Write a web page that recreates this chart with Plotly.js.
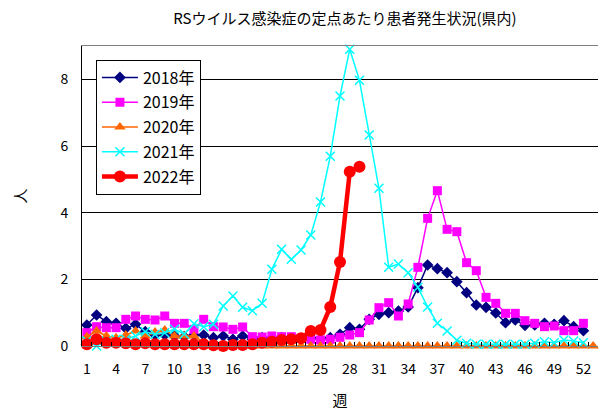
<!DOCTYPE html>
<html>
<head>
<meta charset="utf-8">
<script src="https://cdn.plot.ly/plotly-3.0.1.min.js"></script>
<style>html,body{margin:0;padding:0;background:#fff;}#chart{width:600px;height:410px;}</style>
</head>
<body>
<div id="chart"></div>
<script>
const weeks = Array.from({length: 53}, (_, i) => i + 1);
const tickLabels = [1,4,7,10,13,16,19,22,25,28,31,34,37,40,43,46,49,52];
const seriesNames = ['2018年','2019年','2020年','2021年','2022年'];

const y2018 = [0.63,0.93,0.73,0.68,0.53,0.65,0.43,0.33,0.33,0.3,0.28,0.33,0.33,0.25,0.3,0.2,0.3,0.2,0.25,0.2,0.25,0.2,0.2,0.25,0.2,0.25,0.35,0.55,0.5,0.8,0.95,1.0,1.05,1.17,1.75,2.43,2.32,2.2,1.93,1.6,1.23,1.16,0.99,0.7,0.78,0.62,0.63,0.68,0.65,0.76,0.58,0.46];
const y2019 = [0.4,0.58,0.55,0.55,0.8,0.9,0.8,0.78,0.9,0.68,0.68,0.5,0.8,0.58,0.57,0.5,0.57,0.28,0.27,0.3,0.28,0.28,0.23,0.2,0.18,0.2,0.26,0.33,0.4,0.78,1.15,1.3,0.9,1.26,2.36,3.83,4.66,3.5,3.43,2.5,2.26,1.46,1.28,0.98,0.98,0.76,0.68,0.58,0.6,0.46,0.46,0.68];
const y2020 = [0.28,0.45,0.3,0.25,0.33,0.45,0.3,0.42,0.48,0.3,0.3,0.3,0.1,0.05,0.03,0.03,0.02,0,0,0,0,0,0,0,0,0,0,0,0,0,0,0,0,0,0,0,0,0,0,0,0,0,0,0,0,0,0,0,0,0,0,0,0];
const y2021 = [0.15,0.0,0.15,0.2,0.2,0.3,0.43,0.35,0.4,0.5,0.36,0.67,0.58,0.65,1.2,1.5,1.16,1.06,1.28,2.3,2.9,2.6,2.88,3.33,4.32,5.69,7.5,8.9,7.97,6.33,4.73,2.36,2.46,2.2,1.76,1.17,0.68,0.45,0.17,0.08,0.05,0.05,0.05,0.05,0.05,0.05,0.08,0.13,0.1,0.18,0.15,0.1];
const y2022 = [0.05,0.2,0.1,0.1,0.08,0.05,0.08,0.05,0.05,0.05,0.05,0.05,0.05,0.02,0.0,0.03,0.03,0.05,0.1,0.13,0.18,0.2,0.23,0.45,0.48,1.17,2.52,5.23,5.38];

const FONT = '"Noto Sans CJK JP", "Noto Sans", sans-serif';

function tr(name, ys, color, symbol, msize, lwidth, mline) {
  const m = {color: color, symbol: symbol, size: msize};
  if (mline) m.line = {color: color, width: mline};
  return {
    type: 'scatter', mode: 'lines+markers', name: name,
    x: weeks.slice(0, ys.length), y: ys,
    line: {color: color, width: lwidth},
    marker: m,
    cliponaxis: false
  };
}

const data = [
  tr(seriesNames[0], y2018, '#000080', 'diamond', 9, 1.5),
  tr(seriesNames[1], y2019, '#FF00FF', 'square', 9, 1.5),
  tr(seriesNames[2], y2020, '#FF6600', 'triangle-up', 10, 1.5),
  tr(seriesNames[3], y2021, '#00FFFF', 'x-thin', 9, 1.5, 1.5),
  tr(seriesNames[4], y2022, '#FF0000', 'circle', 12, 4.5),
  {type: 'scatter', x: [0.5, 53.5], y: [0, 0], xaxis: 'x2', mode: 'none', showlegend: false, hoverinfo: 'skip'}
];
data.slice(0,5).forEach((t, i) => { t.legendgroup = 'g' + i; });

const layout = {
  width: 600, height: 410,
  paper_bgcolor: '#ffffff', plot_bgcolor: '#ffffff',
  margin: {l: 82, r: 2, t: 46, b: 64},
  font: {family: FONT, size: 14, color: '#000'},
  title: {text: 'RSウイルス感染症の定点あたり患者発生状況(県内)', font: {family: FONT, size: 15, color: '#000'}, x: 0.575, xanchor: 'center', y: 0.955, yanchor: 'middle'},
  showlegend: true,
  legend: {
    x: 0.027, y: 0.955, xanchor: 'left', yanchor: 'top',
    bordercolor: '#000', borderwidth: 1, bgcolor: '#fff',
    font: {family: FONT, size: 16, color: '#000'},
    tracegroupgap: 1, itemwidth: 36
  },
  xaxis: {
    range: [0.5, 53.5], tickmode: 'array', tickvals: tickLabels, ticktext: tickLabels.map(String),
    ticks: '', showgrid: false, zeroline: false,
    showline: true, linecolor: '#808080', linewidth: 1, mirror: true,
    tickfont: {family: FONT, size: 14, color: '#000'}, ticklabelstandoff: 10,
    title: {text: '週', font: {family: FONT, size: 15, color: '#000'}, standoff: 22}
  },
  xaxis2: {
    overlaying: 'x', range: [0.5, 53.5], tick0: 0.5, dtick: 1, ticks: 'inside', ticklen: 4, tickcolor: '#000',
    showticklabels: false, showgrid: false, zeroline: false, showline: false, side: 'bottom', anchor: 'y'
  },
  yaxis: {
    range: [0, 9], tickvals: [0,2,4,6,8], ticktext: ['0','2','4','6','8'],
    showgrid: true, gridcolor: '#000', gridwidth: 1, zeroline: false,
    showline: true, linecolor: '#000', linewidth: 1,
    ticks: '', tickfont: {family: FONT, size: 14, color: '#000'}, ticklabelstandoff: 10,
    title: {text: '人', font: {family: FONT, size: 15, color: '#000'}, standoff: 30}
  }
};

Plotly.newPlot('chart', data, layout, {staticPlot: true, displayModeBar: false});
</script>
</body>
</html>
